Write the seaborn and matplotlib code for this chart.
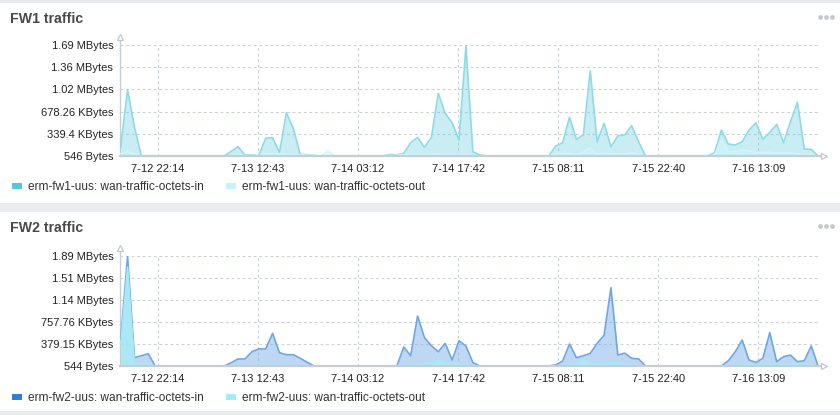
import matplotlib.pyplot as plt
import seaborn as sns
import numpy as np
import pandas as pd
from matplotlib.patches import Rectangle
from matplotlib.lines import Line2D

sns.set_theme(style='white')
plt.rcParams['font.family'] = ['Liberation Sans', 'DejaVu Sans']

# hourly samples, values in KBytes
start = '2017-07-12 16:49'
n_points = 102
x_tick_labels = ['7-12 22:14', '7-13 12:43', '7-14 03:12', '7-14 17:42',
                 '7-15 08:11', '7-15 22:40', '7-16 13:09']

fw1_in = [132, 1008, 441, 1, 1, 1, 1, 1, 1, 1, 1, 1, 1, 1, 1, 1,
          71, 142, 17, 14, 8, 271, 280, 51, 661, 424, 25, 20, 8, 1, 1,
          1, 1, 1, 1, 1, 1, 1, 1,
          25, 20, 42, 203, 285, 132, 285, 958, 652, 508, 244, 1678, 66, 17,
          1, 1, 1, 1, 1, 1, 1, 1, 1, 1,
          153, 203, 593, 254, 322, 1298, 219, 500, 142, 310, 322, 463, 219,
          1, 1, 1, 1, 1, 1, 1, 1, 1, 1,
          51, 397, 183, 169, 219, 397, 508, 254, 361, 483, 203, 525, 820, 107, 102, 1]
fw1_out = [34, 68, 34, 1, 1, 1, 1, 1, 1, 1, 1, 1, 1, 1, 1, 1,
           10, 20, 10, 5, 10, 30, 35, 30, 25, 20, 20, 15, 10, 1, 81,
           1, 1, 1, 1, 1, 1, 1, 1,
           10, 15, 20, 25, 30, 20, 25, 30, 25, 20, 20, 30, 10, 5,
           1, 1, 1, 1, 1, 1, 1, 1, 1, 1,
           30, 40, 35, 20, 60, 130, 30, 50, 30, 30, 35, 50, 20,
           1, 1, 1, 1, 1, 1, 1, 1, 1, 1,
           20, 240, 60, 70, 90, 80, 50, 60, 60, 50, 45, 50, 40, 20, 20, 1]
fw1_y_ticks = [0.53, 339.4, 678.26, 1017.1, 1355.97, 1694.8]
fw1_y_labels = ['546 Bytes', '339.4 KBytes', '678.26 KBytes', '1.02 MBytes',
                '1.36 MBytes', '1.69 MBytes']

fw2_in = [447, 1882, 144, 178, 212, 1, 1, 1, 1, 1, 1, 1, 1, 1, 1, 1,
          57, 121, 121, 246, 294, 294, 562, 229, 195, 195, 133, 66,
          1, 1, 1, 1, 1, 1, 1, 1, 1, 1, 1, 1, 1,
          328, 178, 862, 487, 350, 246, 390, 104, 436, 345, 62,
          1, 1, 1, 1, 1, 1, 1, 1, 1, 1, 1,
          19, 85, 379, 144, 178, 218, 390, 530, 1348, 189, 223, 133, 123,
          1, 1, 1, 1, 1, 1, 1, 1, 1, 1, 1, 1,
          91, 246, 447, 104, 62, 133, 574, 76, 161, 189, 76, 91, 345, 1]
fw2_out = [379, 1704, 57, 38, 38, 1, 1, 1, 1, 1, 1, 1, 1, 1, 1, 1,
           5, 8, 8, 10, 10, 10, 12, 10, 8, 8, 5, 3,
           1, 1, 1, 1, 1, 1, 1, 1, 1, 1, 1, 1, 1,
           10, 20, 40, 40, 60, 100, 80, 50, 40, 20, 5,
           1, 1, 1, 1, 1, 1, 1, 1, 1, 1, 1,
           5, 10, 20, 30, 120, 45, 45, 50, 60, 55, 40, 20, 10,
           1, 1, 1, 1, 1, 1, 1, 1, 1, 1, 1, 1,
           10, 20, 25, 15, 20, 30, 30, 35, 50, 25, 30, 20, 15, 1]
fw2_y_ticks = [0.53, 379.15, 757.76, 1136.4, 1515.0, 1893.6]
fw2_y_labels = ['544 Bytes', '379.15 KBytes', '757.76 KBytes', '1.14 MBytes',
                '1.51 MBytes', '1.89 MBytes']

times = pd.date_range(start, periods=n_points, freq='h')
tick_times = pd.to_datetime(['2017-' + t for t in x_tick_labels])

fig = plt.figure(figsize=(8.4, 4.15), dpi=100, facecolor='#e9ecef')
W, H = 840, 415

# white panels
for top, bottom in [(3, 203), (212, 411)]:
    fig.add_artist(Rectangle((0, 1 - bottom / H), 1, (bottom - top) / H,
                             transform=fig.transFigure, fc='white', ec='none', zorder=-5))

axis_col = '#c6ced3'
grid_col = '#cbd2d7'


def draw_panel(ax_top, ax_bot, title, title_y, legend_y, vin, vout, yticks, ylabels,
               names, in_line, in_fill, in_alpha, out_line, out_fill, out_alpha,
               in_swatch, out_swatch):
    ax = fig.add_axes([119.5 / W, 1 - ax_bot / H, 700 / W, (ax_bot - ax_top) / H])
    ax.set_facecolor('none')
    df = pd.DataFrame({'time': times, 'in': vin, 'out': vout})

    ax.fill_between(df['time'], yticks[0], df['in'], color=in_fill, alpha=in_alpha, lw=0, zorder=2)
    sns.lineplot(data=df, x='time', y='in', ax=ax, color=in_line, lw=1.2, zorder=3)
    ax.fill_between(df['time'], yticks[0], df['out'], color=out_fill, alpha=out_alpha, lw=0, zorder=4)
    sns.lineplot(data=df, x='time', y='out', ax=ax, color=out_line, lw=1.0, zorder=5)

    ax.set_xlim(times[0] - pd.Timedelta(minutes=10), times[-1] + pd.Timedelta(minutes=12))
    ax.set_ylim(yticks[0], yticks[-1])
    ax.set_yticks(yticks)
    ax.set_yticklabels(ylabels)
    ax.set_xticks(tick_times)
    ax.set_xticklabels(x_tick_labels)
    ax.set_xlabel('')
    ax.set_ylabel('')
    ax.grid(True, ls=(0, (2.5, 2.5)), color=grid_col, lw=0.8)
    ax.set_axisbelow(True)
    ax.tick_params(axis='both', length=0, labelsize=8, colors='#222222')
    ax.tick_params(axis='x', pad=6)
    ax.tick_params(axis='y', pad=4.5)

    for s in ['top', 'right']:
        ax.spines[s].set_visible(False)
    ax.spines['left'].set_color(axis_col)
    ax.spines['left'].set_linewidth(1)
    ax.spines['bottom'].set_color(axis_col)
    ax.spines['bottom'].set_linewidth(1.6)
    ax.spines['bottom'].set_zorder(6)

    # axis arrows
    ax.plot([0, 0], [1, 1.065], color=axis_col, lw=1, transform=ax.transAxes, clip_on=False)
    ax.plot(0, 1.07, marker='^', ms=5, mfc='white', mec='#c0c8cc', mew=0.9,
            transform=ax.transAxes, clip_on=False)
    ax.plot(1.006, 0, marker='>', ms=5, mfc='white', mec='#c0c8cc', mew=0.9,
            transform=ax.transAxes, clip_on=False, zorder=7)

    fig.text(10 / W, 1 - title_y / H, title, fontsize=10.2, fontweight='bold',
             color='#4a4a4a', ha='left', va='center')
    # menu dots
    fig.add_artist(Line2D([820 / W, 826 / W, 832 / W], [1 - (title_y - 2) / H] * 3,
                          ls='', marker='o', ms=3.4, mfc='#c2c8cd', mec='none',
                          transform=fig.transFigure))

    handles = [Rectangle((0, 0), 1, 1, fc=in_swatch, ec='none'),
               Rectangle((0, 0), 1, 1, fc=out_swatch, ec='none')]
    leg = ax.legend(handles, names, ncol=2, loc='center left',
                    bbox_to_anchor=(12 / W, 1 - legend_y / H), bbox_transform=fig.transFigure,
                    frameon=False, fontsize=8.6, handlelength=0.85, handleheight=0.35,
                    handletextpad=0.45, columnspacing=1.9, borderpad=0, borderaxespad=0)
    for t in leg.get_texts():
        t.set_color('#333333')
    return ax


draw_panel(45, 156, 'FW1 traffic', 19, 187, fw1_in, fw1_out, fw1_y_ticks, fw1_y_labels,
           ['erm-fw1-uus: wan-traffic-octets-in', 'erm-fw1-uus: wan-traffic-octets-out'],
           '#8edbe8', '#5cc9de', 0.32, '#d2f6fa', '#c9f5fa', 0.6,
           '#55c6dc', '#c3f4f9')

draw_panel(256, 366, 'FW2 traffic', 228, 398, fw2_in, fw2_out, fw2_y_ticks, fw2_y_labels,
           ['erm-fw2-uus: wan-traffic-octets-in', 'erm-fw2-uus: wan-traffic-octets-out'],
           '#6fa6e4', '#7fb0e6', 0.5, '#a6eaf6', '#a8ecf7', 0.8,
           '#2f7fd4', '#a3ecf8')

fig.savefig('out.png', dpi=100, facecolor=fig.get_facecolor())
